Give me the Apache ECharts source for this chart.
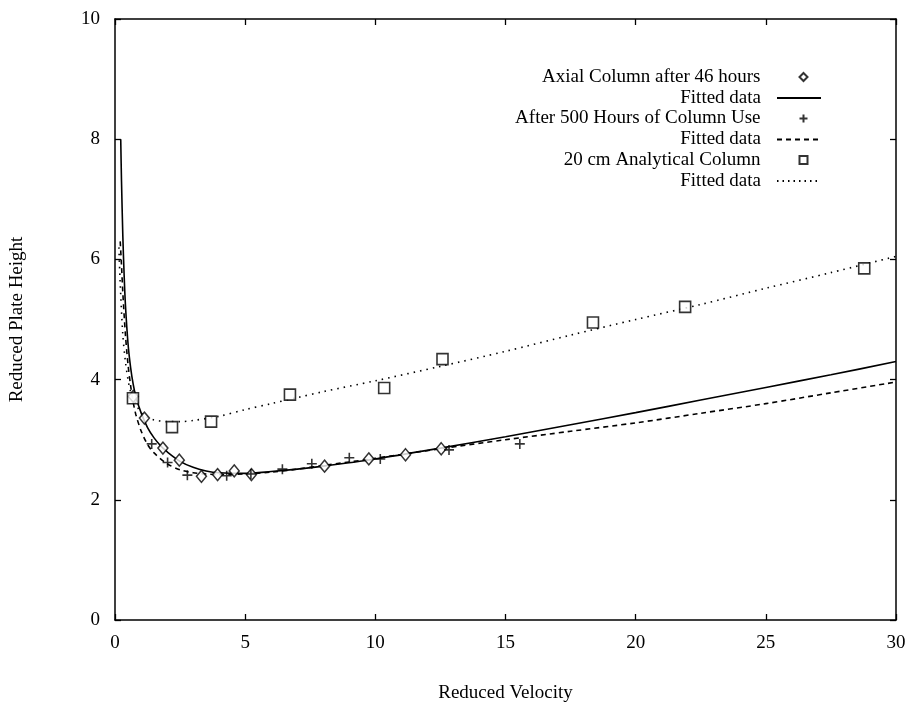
<!DOCTYPE html>
<html>
<head>
<meta charset="utf-8">
<script src="https://cdn.jsdelivr.net/npm/echarts@6/dist/echarts.min.js"></script>
<style>
html,body{margin:0;padding:0;background:#fff;}
#chart{width:911px;height:708px;}
</style>
</head>
<body>
<div id="chart"></div>
<script>
// ---- data ----
const diamondX = [0.70, 1.13, 1.84, 2.47, 3.32, 3.94, 4.58, 5.24, 8.05, 9.75, 11.16, 12.53];
const diamondY = [3.72, 3.36, 2.86, 2.66, 2.39, 2.42, 2.48, 2.42, 2.56, 2.68, 2.75, 2.85];

const plusX = [1.41, 2.02, 2.78, 4.29, 5.22, 6.43, 7.56, 9.00, 10.19, 12.83, 15.55];
const plusY = [2.93, 2.62, 2.41, 2.40, 2.43, 2.51, 2.60, 2.70, 2.68, 2.83, 2.93];

const squareX = [0.69, 2.19, 3.69, 6.72, 10.34, 12.58, 18.36, 21.90, 28.78];
const squareY = [3.69, 3.21, 3.30, 3.75, 3.86, 4.34, 4.95, 5.21, 5.85];

const fitSolidX = [0.22, 0.25, 0.30, 0.35, 0.40, 0.50, 0.60, 0.70, 0.80, 1.00, 1.25, 1.50, 1.75, 2.00, 2.50, 3.00, 3.50, 4.00, 5.00, 6.00, 7.00, 8.00, 10.0, 12.5, 15.0, 17.5, 20.0, 22.5, 25.0, 27.5, 30.0];
const fitSolidY = [8.00, 7.30, 6.40, 5.75, 5.25, 4.60, 4.20, 3.92, 3.72, 3.45, 3.20, 3.03, 2.90, 2.80, 2.64, 2.54, 2.48, 2.45, 2.44, 2.47, 2.51, 2.56, 2.68, 2.86, 3.05, 3.25, 3.45, 3.66, 3.87, 4.08, 4.30];

const fitDashX = [0.20, 0.25, 0.30, 0.40, 0.50, 0.60, 0.70, 0.80, 1.00, 1.25, 1.50, 2.00, 2.50, 3.00, 3.50, 4.00, 5.00, 6.00, 7.00, 8.00, 10.0, 12.5, 15.0, 17.5, 20.0, 22.5, 25.0, 27.5, 30.0];
const fitDashY = [6.30, 5.90, 5.45, 4.75, 4.25, 3.90, 3.62, 3.42, 3.15, 2.92, 2.78, 2.60, 2.50, 2.45, 2.43, 2.42, 2.43, 2.46, 2.51, 2.57, 2.69, 2.85, 3.00, 3.14, 3.28, 3.44, 3.60, 3.78, 3.96];

const fitDotX = [0.15, 0.20, 0.30, 0.40, 0.50, 0.60, 0.80, 1.00, 1.25, 1.50, 2.00, 2.50, 3.00, 4.00, 5.00, 6.00, 7.00, 8.00, 10.0, 12.5, 15.0, 17.5, 20.0, 22.5, 25.0, 27.5, 30.0];
const fitDotY = [6.20, 5.60, 4.75, 4.30, 4.00, 3.80, 3.60, 3.45, 3.37, 3.33, 3.30, 3.30, 3.32, 3.39, 3.50, 3.60, 3.70, 3.80, 3.98, 4.22, 4.47, 4.74, 5.00, 5.25, 5.52, 5.78, 6.05];

const xTicks = [0, 5, 10, 15, 20, 25, 30];
const yTicks = [0, 2, 4, 6, 8, 10];

const names = {
  d: 'Axial Column after 46 hours',
  f1: 'Fitted data',
  p: 'After 500 Hours of Column Use',
  f2: 'Fitted data\u200B',
  s: '20 cm Analytical Column',
  f3: 'Fitted data\u200B\u200B'
};

// ---- build ----
const zip = (xs, ys) => xs.map((x, i) => [x, ys[i]]);
const FONT = 'Liberation Serif';
const FS = 19;
const plusPath = 'path://M0,5L10,5M5,0L5,10';

function axisBase(extra) {
  return Object.assign({
    type: 'value',
    axisLine: {show: true, onZero: false, lineStyle: {color: '#000', width: 1.5}},
    axisTick: {show: true, inside: true, length: 6, lineStyle: {color: '#000', width: 1.3}},
    splitLine: {show: false},
    axisLabel: {show: false}
  }, extra);
}

const chart = echarts.init(document.getElementById('chart'), null, {renderer: 'canvas'});
chart.setOption({
  animation: false,
  backgroundColor: '#fff',
  grid: {left: 112, right: 15, top: 19, bottom: 84, containLabel: false},
  xAxis: [
    axisBase({
      position: 'bottom', min: xTicks[0], max: xTicks[xTicks.length - 1], interval: 5,
      axisLabel: {show: true, color: '#000', fontFamily: FONT, fontSize: FS, margin: 14},
      name: 'Reduced Velocity', nameLocation: 'middle', nameGap: 64,
      nameTextStyle: {color: '#000', fontFamily: FONT, fontSize: FS}
    }),
    axisBase({position: 'top', min: xTicks[0], max: xTicks[xTicks.length - 1], interval: 5})
  ],
  yAxis: [
    axisBase({
      position: 'left', min: yTicks[0], max: yTicks[yTicks.length - 1], interval: 2,
      axisLabel: {show: true, color: '#000', fontFamily: FONT, fontSize: FS, margin: 15},
      name: 'Reduced Plate Height', nameLocation: 'middle', nameGap: 88, nameRotate: 90,
      nameTextStyle: {color: '#000', fontFamily: FONT, fontSize: FS}
    }),
    axisBase({position: 'right', min: yTicks[0], max: yTicks[yTicks.length - 1], interval: 2})
  ],
  legend: [
    {
      data: [names.d, names.p, names.s],
      orient: 'vertical', align: 'right', right: 101, top: 67, padding: 0,
      itemWidth: 8, itemHeight: 8, itemGap: 21.5, selectedMode: false,
      textStyle: {color: '#000', fontFamily: FONT, fontSize: FS, lineHeight: 20, padding: [0, 34, 0, 0]}
    },
    {
      data: [
        {name: names.f1, lineStyle: {type: 'solid'}, itemStyle: {opacity: 0}},
        {name: names.f2, lineStyle: {type: [5, 4]}, itemStyle: {opacity: 0}},
        {name: names.f3, lineStyle: {type: [1.5, 4]}, itemStyle: {opacity: 0}}
      ],
      orient: 'vertical', align: 'right', right: 89, top: 88, padding: 0,
      itemWidth: 44, itemHeight: 10, itemGap: 21.5, selectedMode: false,
      textStyle: {color: '#000', fontFamily: FONT, fontSize: FS, lineHeight: 20, padding: [0, 11, 0, 0]}
    }
  ],
  series: [
    {
      name: names.d, type: 'scatter', data: zip(diamondX, diamondY),
      symbol: 'diamond', symbolSize: [10, 12],
      itemStyle: {color: '#fff', borderColor: '#000', borderWidth: 1.5}, z: 5
    },
    {
      name: names.f1, type: 'line', data: zip(fitSolidX, fitSolidY), smooth: 0.3,
      showSymbol: false, symbol: 'none', lineStyle: {color: '#000', width: 1.6, type: 'solid'},
      itemStyle: {color: '#000'}
    },
    {
      name: names.p, type: 'scatter', data: zip(plusX, plusY),
      symbol: plusPath, symbolSize: 10,
      itemStyle: {color: 'none', borderColor: '#000', borderWidth: 1.6}, z: 5
    },
    {
      name: names.f2, type: 'line', data: zip(fitDashX, fitDashY), smooth: 0.3,
      showSymbol: false, symbol: 'none', lineStyle: {color: '#000', width: 1.6, type: [5, 4]},
      itemStyle: {color: '#000'}
    },
    {
      name: names.s, type: 'scatter', data: zip(squareX, squareY),
      symbol: 'rect', symbolSize: 11,
      itemStyle: {color: '#fff', borderColor: '#000', borderWidth: 1.6}, z: 5
    },
    {
      name: names.f3, type: 'line', data: zip(fitDotX, fitDotY), smooth: 0.3,
      showSymbol: false, symbol: 'none', lineStyle: {color: '#000', width: 1.6, type: [1.5, 5]},
      itemStyle: {color: '#000'}
    }
  ]
});
</script>
</body>
</html>
